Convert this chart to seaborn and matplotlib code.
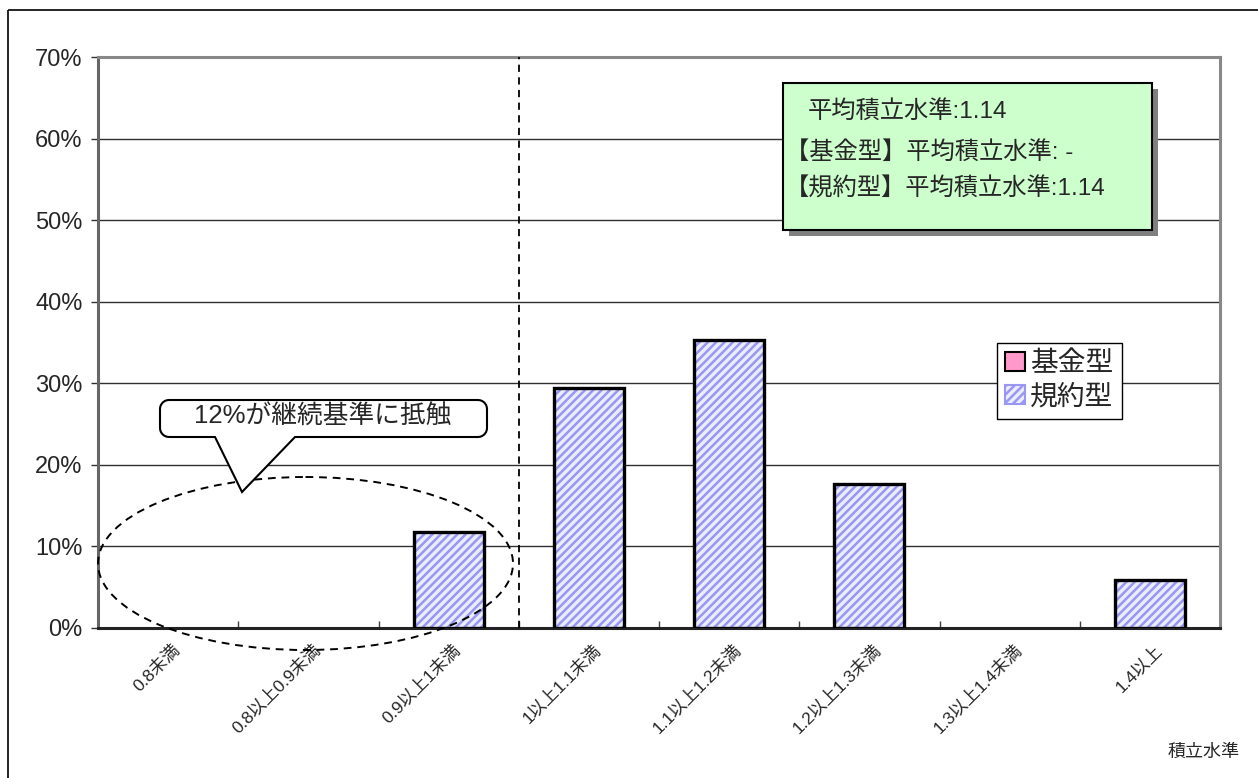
import numpy as np
import pandas as pd
import matplotlib
matplotlib.use("Agg")
import matplotlib.pyplot as plt
import matplotlib.transforms as mtransforms
from matplotlib.patches import Rectangle, Ellipse, Polygon, Patch
from matplotlib.ticker import PercentFormatter, FixedLocator
import seaborn as sns

# ---- data ----
categories = ["0.8未満", "0.8以上0.9未満", "0.9以上1未満", "1以上1.1未満",
              "1.1以上1.2未満", "1.2以上1.3未満", "1.3以上1.4未満", "1.4以上"]
kikin_values = [0, 0, 0, 0, 0, 0, 0, 0]
kiyaku_values = [0, 0, 0.118, 0.294, 0.353, 0.176, 0, 0.059]
series_names = ["基金型", "規約型"]
y_ticks = [0, 0.1, 0.2, 0.3, 0.4, 0.5, 0.6, 0.7]
info_lines = ["平均積立水準:1.14", "【基金型】平均積立水準: -", "【規約型】平均積立水準:1.14"]
callout_text = "12%が継続基準に抵触"
xlabel_text = "積立水準"

sns.set_theme(style="white")
plt.rcParams["font.family"] = ["Liberation Sans", "Noto Sans CJK JP", "DejaVu Sans"]
plt.rcParams["hatch.linewidth"] = 1.8

HATCH_COLOR = "#9898F2"
FACE_KIYAKU = "#ECECFF"

W, H = 1258, 778
fig = plt.figure(figsize=(W / 100, H / 100), dpi=100)
fig.patch.set_facecolor("white")
ax = fig.add_axes([98 / W, 1 - 628 / H, (1220 - 98) / W, (628 - 57) / H])

df = pd.DataFrame({
    "cat": categories * 2,
    "series": [series_names[0]] * len(categories) + [series_names[1]] * len(categories),
    "value": kikin_values + kiyaku_values,
})
palette = {"基金型": "#FF99CC", "規約型": FACE_KIYAKU}
sns.barplot(data=df, x="cat", y="value", hue="series", hue_order=series_names,
            palette=palette, dodge=False, width=0.5, ax=ax, legend=False,
            saturation=1, zorder=3)

# hatch + black outline on the 規約型 bars
for p in ax.containers[1].patches:
    p.set_hatch("////")
    p.set_edgecolor(HATCH_COLOR)
    p.set_linewidth(0)
    if p.get_height() > 0:
        ax.add_patch(Rectangle((p.get_x(), p.get_y()), p.get_width(), p.get_height(),
                               fill=False, edgecolor="black", linewidth=2.4, zorder=4))
for p in ax.containers[0].patches:
    p.set_edgecolor("black")
    p.set_linewidth(0)

ax.set_xlim(-0.5, len(categories) - 0.5)
ax.set_ylim(0, 0.7)
ax.set_yticks(y_ticks)
ax.yaxis.set_major_formatter(PercentFormatter(1.0, decimals=0))
ax.grid(axis="y", color="#303030", linewidth=1.0, zorder=0)
ax.set_axisbelow(True)
ax.set_xlabel("")
ax.set_ylabel("")

ax.tick_params(axis="y", which="major", length=5, width=1, color="#303030",
               direction="out", labelsize=17, pad=6, left=True)
ax.tick_params(axis="x", which="major", length=0, labelsize=12.5, pad=10)
ax.xaxis.set_minor_locator(FixedLocator(np.arange(0.5, len(categories) - 0.5, 1)))
ax.tick_params(axis="x", which="minor", length=5, width=1, color="#404040",
               direction="in", bottom=True)
for lab in ax.get_xticklabels():
    lab.set_rotation(45)
    lab.set_ha("right")
    lab.set_va("top")
    lab.set_rotation_mode("anchor")
    lab.set_transform(lab.get_transform() + mtransforms.ScaledTranslation(4 / 100, 0, fig.dpi_scale_trans))

for s in ["top", "right"]:
    ax.spines[s].set_color("#888888")
    ax.spines[s].set_linewidth(2.2)
ax.spines["left"].set_color("#666666")
ax.spines["left"].set_linewidth(2.2)
ax.spines["bottom"].set_color("#222222")
ax.spines["bottom"].set_linewidth(2.2)

# vertical dashed separator between 1未満 and 1以上
ax.axvline(2.5, color="black", linestyle=(0, (4, 3)), linewidth=1.3, zorder=5)

# pixel transform (top-left origin)
T = mtransforms.Affine2D().scale(1 / W, -1 / H).translate(0, 1) + fig.transFigure

# outer frame
fig.patches.append(Rectangle((8, 10), 1300, 800, transform=T, fill=False,
                             edgecolor="black", linewidth=1.2, zorder=0))

# info box with shadow
bx0, by0, bx1, by1 = 783, 83, 1152, 230
fig.patches.append(Rectangle((bx0 + 6, by0 + 6), bx1 - bx0, by1 - by0, transform=T,
                             facecolor="#808080", edgecolor="none", zorder=5))
fig.patches.append(Rectangle((bx0, by0), bx1 - bx0, by1 - by0, transform=T,
                             facecolor="#CCFFCC", edgecolor="black", linewidth=1.5, zorder=6))
for y, t in zip([111, 152, 189], info_lines):
    x = 785 if t.startswith("【") else 808
    fig.text(x / W, 1 - y / H, t, fontsize=17.5, va="center", ha="left", zorder=7)

# dashed ellipse
fig.patches.append(Ellipse((305.5, 563.5), 415, 173, transform=T, fill=False,
                           edgecolor="black", linestyle=(0, (4, 3)), linewidth=1.4, zorder=5))

# callout bubble with pointer
def rounded_bubble(x0, y0, x1, y1, r, base_l, base_r, tip):
    pts = []
    def arc(cx, cy, a0, a1):
        for a in np.linspace(np.radians(a0), np.radians(a1), 8):
            pts.append((cx + r * np.cos(a), cy + r * np.sin(a)))
    arc(x0 + r, y0 + r, 180, 270)
    arc(x1 - r, y0 + r, 270, 360)
    arc(x1 - r, y1 - r, 0, 90)
    pts.append((base_r, y1))
    pts.append(tip)
    pts.append((base_l, y1))
    arc(x0 + r, y1 - r, 90, 180)
    return pts

bubble = rounded_bubble(160, 400, 487, 437, 9, 215, 295, (242, 492))
fig.patches.append(Polygon(bubble, closed=True, transform=T, facecolor="white",
                           edgecolor="black", linewidth=1.5, zorder=8))
fig.text(323 / W, 1 - 417 / H, callout_text, fontsize=18.5, ha="center", va="center", zorder=9)

# legend
handles = [Patch(facecolor="#FF99CC", edgecolor="black", linewidth=1.5),
           Patch(facecolor=FACE_KIYAKU, edgecolor=HATCH_COLOR, hatch="////", linewidth=1.5)]
leg = fig.legend(handles, series_names, loc="upper left",
                 bbox_to_anchor=(997 / W, 1 - 343 / H), fontsize=20,
                 frameon=True, fancybox=False, shadow=False, framealpha=1,
                 handlelength=0.7, handleheight=0.7, handletextpad=0.2,
                 borderpad=0.3, labelspacing=0.25, borderaxespad=0)
leg.get_frame().set_edgecolor("black")
leg.get_frame().set_linewidth(1.0)
leg.set_zorder(10)

# x axis title
fig.text(1240 / W, 1 - 752 / H, xlabel_text, fontsize=13, ha="right", va="center")

fig.savefig("out.png", dpi=100, facecolor="white")
